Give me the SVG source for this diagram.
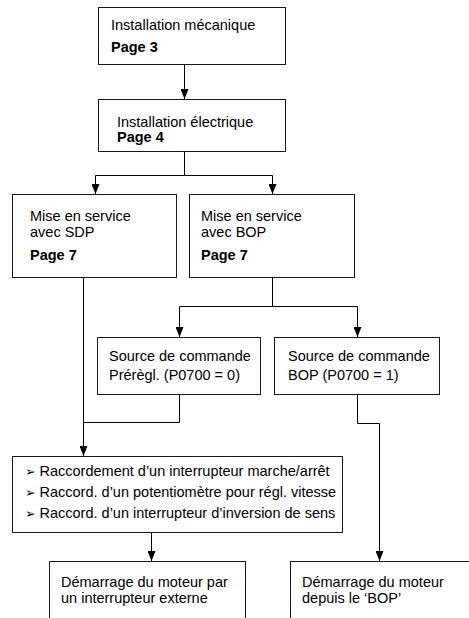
<svg xmlns="http://www.w3.org/2000/svg" width="469" height="618" viewBox="0 0 469 618">
<style>
.box{fill:#fff;stroke:#1a1a1a;stroke-width:1}
.t{font-family:"Liberation Sans",Arial,sans-serif;font-size:14.5px;fill:#000}
.b{font-weight:bold}
.bul{font-family:"DejaVu Sans",sans-serif;font-size:12.5px}
.c{fill:none;stroke:#000;stroke-width:1}
</style>
<defs>
<marker id="ah" viewBox="0 0 10 8" refX="10" refY="4" markerWidth="10" markerHeight="8" markerUnits="userSpaceOnUse" orient="auto">
<path d="M0,0 L10,4 L0,8 z" fill="#000"/>
</marker>
</defs>
<rect width="469" height="618" fill="#fff"/>
<g id="connectors">
<path class="c" d="M184.5,64 V99" marker-end="url(#ah)"/>
<path class="c" d="M184.5,152 V175.5 H95.5 V194" marker-end="url(#ah)"/>
<path class="c" d="M184.5,175.5 H272.5 V194" marker-end="url(#ah)"/>
<path class="c" d="M83.5,278 V456" marker-end="url(#ah)"/>
<path class="c" d="M272.5,278 V306.5 H179.5 V337" marker-end="url(#ah)"/>
<path class="c" d="M272.5,306.5 H357.5 V337" marker-end="url(#ah)"/>
<path class="c" d="M179.5,395 V422.5 H83.5"/>
<path class="c" d="M357.5,395 V423.5 H379.5 V561" marker-end="url(#ah)"/>
<path class="c" d="M151.5,533 V561" marker-end="url(#ah)"/>
</g>
<g id="n1">
<rect class="box" x="98.5" y="7.5" width="187" height="57"/>
<text class="t" x="111" y="30">Installation mécanique</text>
<text class="t b" x="111" y="52">Page 3</text>
</g>
<g id="n2">
<rect class="box" x="98.5" y="99.5" width="187" height="52"/>
<text class="t" x="117" y="127">Installation électrique</text>
<text class="t b" x="117" y="142">Page 4</text>
</g>
<g id="n3">
<rect class="box" x="12.5" y="194.5" width="164" height="83"/>
<text class="t" x="30" y="221">Mise en service</text>
<text class="t" x="30" y="237">avec SDP</text>
<text class="t b" x="30" y="260">Page 7</text>
</g>
<g id="n4">
<rect class="box" x="189.5" y="194.5" width="165" height="83"/>
<text class="t" x="201" y="221">Mise en service</text>
<text class="t" x="201" y="237">avec BOP</text>
<text class="t b" x="201" y="260">Page 7</text>
</g>
<g id="n5">
<rect class="box" x="97.5" y="337.5" width="163" height="57"/>
<text class="t" x="109" y="361">Source de commande</text>
<text class="t" x="109" y="380">Prérègl. (P0700 = 0)</text>
</g>
<g id="n6">
<rect class="box" x="274.5" y="337.5" width="165" height="57"/>
<text class="t" x="288" y="361">Source de commande</text>
<text class="t" x="288" y="380">BOP (P0700 = 1)</text>
</g>
<g id="n7">
<rect class="box" x="12.5" y="456.5" width="330" height="76"/>
<text class="t" x="25" y="476"><tspan class="bul">➢</tspan> Raccordement d’un interrupteur marche/arrêt</text>
<text class="t" x="25" y="497"><tspan class="bul">➢</tspan> Raccord. d’un potentiomètre pour régl. vitesse</text>
<text class="t" x="25" y="518"><tspan class="bul">➢</tspan> Raccord. d’un interrupteur d’inversion de sens</text>
</g>
<g id="n8">
<rect class="box" x="49.5" y="561.5" width="196" height="70"/>
<text class="t" x="61" y="587">Démarrage du moteur par</text>
<text class="t" x="61" y="603">un interrupteur externe</text>
</g>
<g id="n9">
<rect class="box" x="290.5" y="561.5" width="200" height="70"/>
<text class="t" x="302" y="587">Démarrage du moteur</text>
<text class="t" x="302" y="603">depuis le ‘BOP’</text>
</g>
</svg>
